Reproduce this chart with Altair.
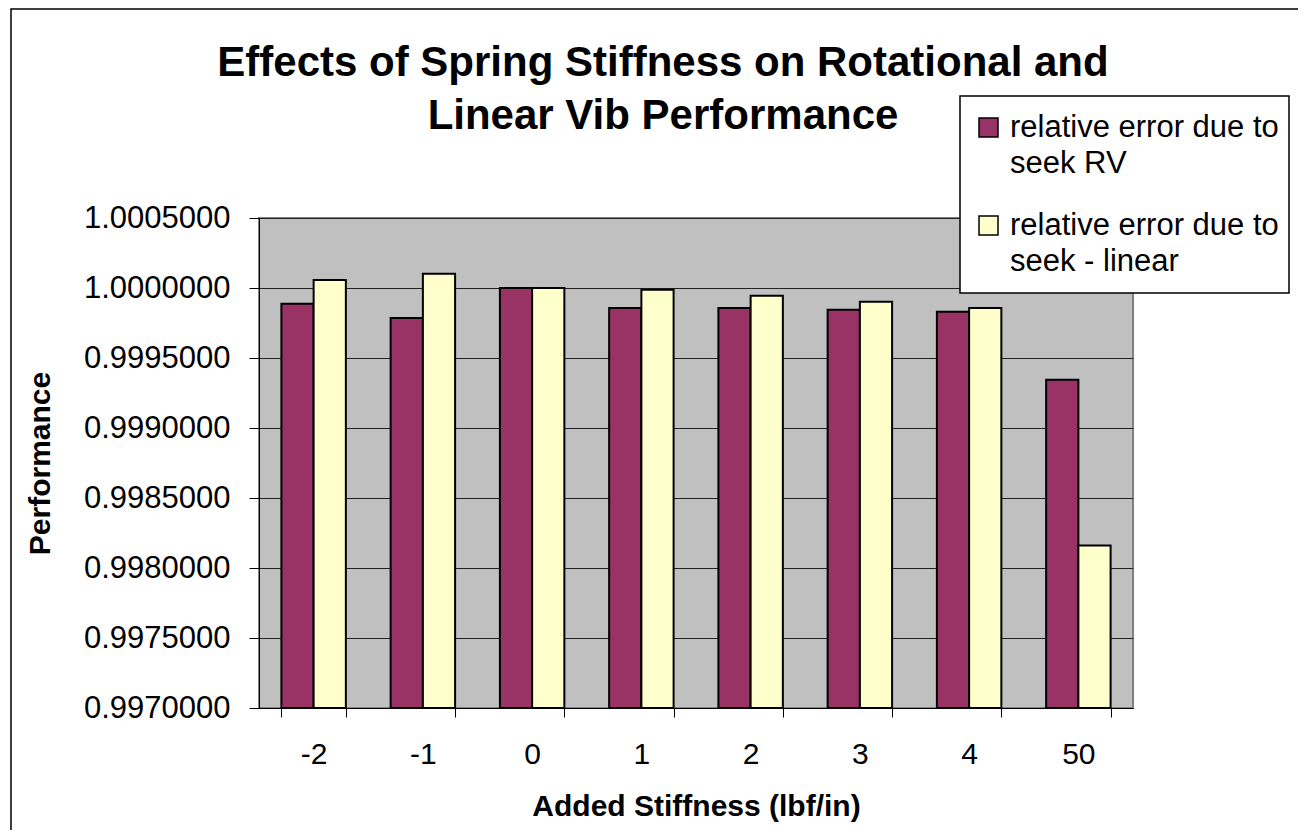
import altair as alt
import pandas as pd

categories = ["-2", "-1", "0", "1", "2", "3", "4", "50"]
series_names = ["relative error due to seek RV", "relative error due to seek - linear"]
rv_values = [0.999888, 0.999786, 1.000000, 0.999857, 0.999857, 0.999845, 0.999831, 0.999345]
linear_values = [1.000057, 1.000102, 1.000000, 0.999988, 0.999945, 0.999902, 0.999857, 0.998161]
y_ticks = [0.9970, 0.9975, 0.9980, 0.9985, 0.9990, 0.9995, 1.0000, 1.0005]
legend_lines = [["relative error due to", "seek RV"], ["relative error due to", "seek - linear"]]
title_lines = ["Effects of Spring Stiffness on Rotational and", "Linear Vib Performance"]
colors = ["#993366", "#FFFFCC"]

rows = []
for c, a, b in zip(categories, rv_values, linear_values):
    rows.append({"stiffness": c, "series": series_names[0], "value": a})
    rows.append({"stiffness": c, "series": series_names[1], "value": b})
df = pd.DataFrame(rows)

FONT = "Liberation Sans"

bars = alt.Chart(df).mark_bar(stroke="black", strokeWidth=2).encode(
    x=alt.X("stiffness:N", sort=categories,
            scale=alt.Scale(paddingInner=0.41, paddingOuter=0.205),
            axis=alt.Axis(title="Added Stiffness (lbf/in)", labelAngle=0, tickBand="extent",
                          tickSize=9, labelPadding=22, titlePadding=22)),
    xOffset=alt.XOffset("series:N", sort=series_names, scale=alt.Scale(paddingInner=0, paddingOuter=0)),
    y=alt.Y("value:Q", scale=alt.Scale(domain=[y_ticks[0], y_ticks[-1]], zero=False, nice=False),
            axis=alt.Axis(title="Performance", values=y_ticks, format=".7f", tickSize=10,
                          labelPadding=19, labelFontSize=31, titlePadding=28, grid=True)),
    y2=alt.datum(y_ticks[0]),
    color=alt.Color("series:N", sort=series_names,
                    scale=alt.Scale(domain=series_names, range=colors), legend=None),
)

one = pd.DataFrame({"k": [0]})

outer = alt.Chart(one).mark_rect(fill=None, stroke="black", strokeWidth=1.5).encode(
    x=alt.value(-248), x2=alt.value(1100), y=alt.value(-209), y2=alt.value(700))

title = alt.Chart(one).mark_text(align="center", baseline="alphabetic", font=FONT, fontSize=42,
                                 fontWeight="bold", lineHeight=53, color="black").encode(
    x=alt.value(404), y=alt.value(-142), text=alt.value(title_lines))

legend_box = alt.Chart(one).mark_rect(fill="white", stroke="black", strokeWidth=1.5).encode(
    x=alt.value(701), x2=alt.value(1030), y=alt.value(-122), y2=alt.value(75))

layers = [bars, outer, title, legend_box]
sym_y = [-100, -2]
txt_y = [-81, 17]
for i in range(2):
    layers.append(alt.Chart(one).mark_rect(stroke="black", strokeWidth=1.5).encode(
        x=alt.value(720), x2=alt.value(739), y=alt.value(sym_y[i]), y2=alt.value(sym_y[i] + 19),
        color=alt.value(colors[i])))
    layers.append(alt.Chart(one).mark_text(align="left", baseline="alphabetic", font=FONT,
                                           fontSize=31, lineHeight=36, color="black").encode(
        x=alt.value(751), y=alt.value(txt_y[i]), text=alt.value(legend_lines[i])))

chart = alt.layer(*layers).properties(
    width=874, height=490,
    background="white",
    padding={"left": 251, "top": 210, "right": 165, "bottom": 122},
    autosize=alt.AutoSizeParams(type="none"),
).configure_view(
    fill="#C0C0C0", stroke="#808080", strokeWidth=2
).configure_axis(
    labelFont=FONT, titleFont=FONT, labelFontSize=30, titleFontSize=30, titleFontWeight="bold",
    labelColor="black", titleColor="black", domainColor="black", tickColor="black",
    gridColor="#222222", gridWidth=1, domainWidth=1
).configure_axisX(grid=False)

chart.save("out.html", embed_options={"renderer": "svg", "actions": False})
